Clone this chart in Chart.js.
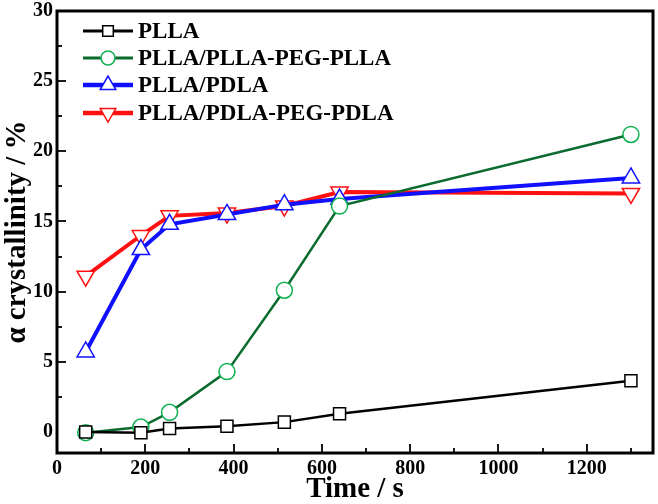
<!DOCTYPE html>
<html>
<head>
<meta charset="utf-8">
<script src="https://cdn.jsdelivr.net/npm/chart.js@4.4.0/dist/chart.umd.min.js"></script>
<style>
  html, body { margin: 0; padding: 0; background: #fff; }
  #wrap { width: 658px; height: 504px; position: relative; }
</style>
</head>
<body>
<div id="wrap"><canvas id="c" width="658" height="504"></canvas></div>
<script>
// data
const times = [65, 190, 255, 385, 515, 640, 1300];
const plla = [0, -0.05, 0.25, 0.4, 0.7, 1.3, 3.65];
const pllaPeg = [-0.05, 0.35, 1.4, 4.3, 10.1, 16.1, 21.2];
const pllaPdla = [5.7, 13.0, 14.8, 15.5, 16.2, 16.6, 18.1];
const pdlaPeg = [11.1, 14.0, 15.4, 15.6, 16.1, 17.1, 17.0];
const seriesNames = ['PLLA', 'PLLA/PLLA-PEG-PLLA', 'PLLA/PDLA', 'PLLA/PDLA-PEG-PDLA'];
const xTicks = [0, 200, 400, 600, 800, 1000, 1200];
const yTicks = [0, 5, 10, 15, 20, 25, 30];

const serif = "'Liberation Serif', 'Times New Roman', serif";

function pts(ys) {
  return times.map((t, i) => ({x: t, y: ys[i]}));
}

const ds = [
  {label: seriesNames[0], data: pts(plla), borderColor: '#000', pointBorderColor: '#000',
   borderWidth: 2.5, pointStyle: 'rect', pointRadius: 8.5, pointBorderWidth: 1.5},
  {label: seriesNames[1], data: pts(pllaPeg), borderColor: '#0b6b2e', pointBorderColor: '#10b050',
   borderWidth: 2.5, pointStyle: 'circle', pointRadius: 8, pointBorderWidth: 1.5},
  {label: seriesNames[2], data: pts(pllaPdla), borderColor: '#1010ff', pointBorderColor: '#1010ff',
   borderWidth: 4, pointStyle: 'triangle', pointRadius: 10, pointBorderWidth: 1.5},
  {label: seriesNames[3], data: pts(pdlaPeg), borderColor: '#ff1010', pointBorderColor: '#ff1010',
   borderWidth: 4, pointStyle: 'triangle', pointRotation: 180, pointRadius: 10, pointBorderWidth: 1.5}
];
ds.forEach(d => { d.pointBackgroundColor = '#fff'; d.tension = 0; d.fill = false; });

// frame, inward ticks and the legend box
const decor = {
  id: 'decor',
  afterDraw(chart) {
    const ctx = chart.ctx, a = chart.chartArea;
    const xs = chart.scales.x, ys = chart.scales.y;
    ctx.save();
    ctx.strokeStyle = '#000';
    ctx.lineWidth = 1.8;
    for (let v = 100; v <= 1300; v += 100) {
      const px = Math.round(xs.getPixelForValue(v));
      const len = v % 200 === 0 ? 9 : 5;
      ctx.beginPath(); ctx.moveTo(px, a.bottom); ctx.lineTo(px, a.bottom - len); ctx.stroke();
    }
    for (let v = 2.5; v < 30; v += 2.5) {
      const py = Math.round(ys.getPixelForValue(v));
      const len = v % 5 === 0 ? 9 : 5;
      ctx.beginPath(); ctx.moveTo(a.left, py); ctx.lineTo(a.left + len, py); ctx.stroke();
    }
    ctx.lineWidth = 3;
    ctx.strokeRect(a.left, a.top, a.right - a.left, a.bottom - a.top);

    // legend
    const rowsY = [31, 58, 85, 113];
    ctx.font = 'bold 23px ' + serif;
    ctx.textBaseline = 'middle';
    ds.forEach((d, i) => {
      const y = rowsY[i];
      ctx.strokeStyle = d.borderColor;
      ctx.lineWidth = d.borderWidth + 0.5;
      ctx.beginPath(); ctx.moveTo(83, y); ctx.lineTo(133, y); ctx.stroke();
      ctx.fillStyle = '#fff';
      ctx.strokeStyle = d.pointBorderColor;
      ctx.lineWidth = 1.5;
      Chart.helpers.drawPoint(ctx, {pointStyle: d.pointStyle, radius: d.pointRadius - 1,
        rotation: d.pointRotation || 0, borderWidth: 1.5}, 108, y);
      ctx.fillStyle = '#000';
      ctx.fillText(d.label, 138, y + 1);
    });
    ctx.restore();
  }
};

new Chart(document.getElementById('c'), {
  type: 'line',
  data: {datasets: ds},
  options: {
    responsive: false,
    animation: false,
    layout: {autoPadding: false, padding: {top: 11, right: 5, left: 0, bottom: 0}},
    plugins: {legend: {display: false}, tooltip: {enabled: false}},
    scales: {
      x: {
        type: 'linear', min: 0, max: 1350,
        afterBuildTicks(s) { s.ticks = xTicks.map(v => ({value: v})); },
        afterFit(s) { s.height = 51; s.paddingLeft = 0; s.paddingRight = 0; },
        grid: {display: false, drawTicks: false},
        border: {display: false},
        ticks: {color: '#000', padding: 4, maxRotation: 0,
          callback: v => String(v),
          font: {family: serif, weight: 'bold', size: 20}},
        title: {display: true, text: 'Time / s', color: '#000', padding: {top: -5, bottom: -3},
          font: {family: serif, weight: 'bold', size: 29}}
      },
      y: {
        type: 'linear', min: -1.5, max: 30,
        afterBuildTicks(s) { s.ticks = yTicks.map(v => ({value: v})); },
        afterFit(s) { s.width = 57; s.paddingTop = 0; s.paddingBottom = 0; },
        grid: {display: false, drawTicks: false},
        border: {display: false},
        ticks: {color: '#000', padding: 4,
          font: {family: serif, weight: 'bold', size: 20}},
        title: {display: true, text: 'α crystallinity / %', color: '#000', padding: {top: 0, bottom: 0},
          font: {family: serif, weight: 'bold', size: 29}}
      }
    }
  },
  plugins: [decor]
});
</script>
</body>
</html>
